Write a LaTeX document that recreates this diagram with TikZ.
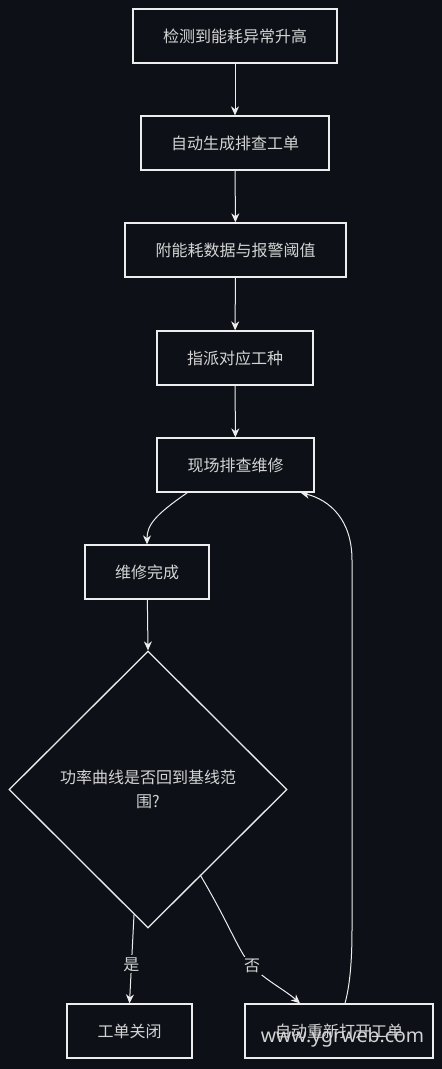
\documentclass[tikz,border=0pt]{standalone}
\usepackage{fontspec}
\setmainfont{Noto Sans CJK SC}
\newfontfamily\wmfont{Noto Sans}
\usetikzlibrary{arrows.meta,shapes.geometric,calc}
\definecolor{bg}{HTML}{0D1117}
\definecolor{fg}{HTML}{D4D4D4}
\definecolor{ln}{HTML}{EDEDED}
\tikzset{
  box/.style={draw=ln,line width=1.3pt,fill=bg,text=fg,font=\fontsize{16}{19}\selectfont,inner sep=0pt,anchor=center},
  dec/.style={draw=ln,line width=1.3pt,fill=bg,text=fg,font=\fontsize{16}{24}\selectfont,diamond,inner sep=0pt,minimum width=278pt,minimum height=277pt,align=center},
  conn/.style={draw=ln,line width=1pt,-{Stealth[length=9pt,width=8pt]}},
  lbl/.style={fill=bg,text=fg,font=\fontsize{16}{19}\selectfont,inner sep=2pt}
}
\begin{document}
\begin{tikzpicture}[x=1pt,y=-1pt]
\fill[bg] (0,0) rectangle (442,1069);
\useasboundingbox (0,0) rectangle (442,1069);
\node[box,minimum width=204pt,minimum height=54pt] (n1) at (235,36) {检测到能耗异常升高};
\node[box,minimum width=188pt,minimum height=54pt] (n2) at (235,143) {自动生成排查工单};
\node[box,minimum width=221pt,minimum height=54pt] (n3) at (235.5,250) {附能耗数据与报警阈值};
\node[box,minimum width=156pt,minimum height=54pt] (n4) at (235,358) {指派对应工种};
\node[box,minimum width=157pt,minimum height=54pt] (n5) at (235.5,465) {现场排查维修};
\node[box,minimum width=124pt,minimum height=54pt] (n6) at (147,572) {维修完成};
\node[dec] (d) at (148,789.5) {功率曲线是否回到基线范\\围?};
\node[box,minimum width=125pt,minimum height=54pt] (n8) at (129.5,1031) {工单关闭};
\node[box,minimum width=188pt,minimum height=54pt] (n9) at (339,1031) {自动重新打开工单};

\draw[conn] (n1) -- (n2);
\draw[conn] (n2) -- (n3);
\draw[conn] (n3) -- (n4);
\draw[conn] (n4) -- (n5);
\draw[conn] ([xshift=31pt]n5.south west) .. controls (155,515) and (147,525) .. (n6.north);
\draw[conn] (n6) -- (d.north);
\draw[conn] ([xshift=-14pt,yshift=14pt]d.south) -- node[lbl,pos=0.56] {是} (n8.north);
\draw[conn] ([xshift=52pt,yshift=54pt]d.south) .. controls (230,925) and (240,955) .. (252,966) node[lbl] {否} .. controls (265,980) and (285,990) .. ([xshift=-39pt]n9.north);
\coordinate (r1) at (352,930);
\coordinate (r2) at (352,560);
\draw[conn] ([xshift=6pt]n9.north) .. controls (350,985) and (352,960) .. (r1) -- (r2) .. controls (352,520) and (330,500) .. ([xshift=-14pt]n5.south east);

\node[text=fg,font=\wmfont\fontsize{19.5}{22}\selectfont,inner sep=0pt] (wm) at (342.5,1037) {www.ygrweb.com};
\end{tikzpicture}
\end{document}
